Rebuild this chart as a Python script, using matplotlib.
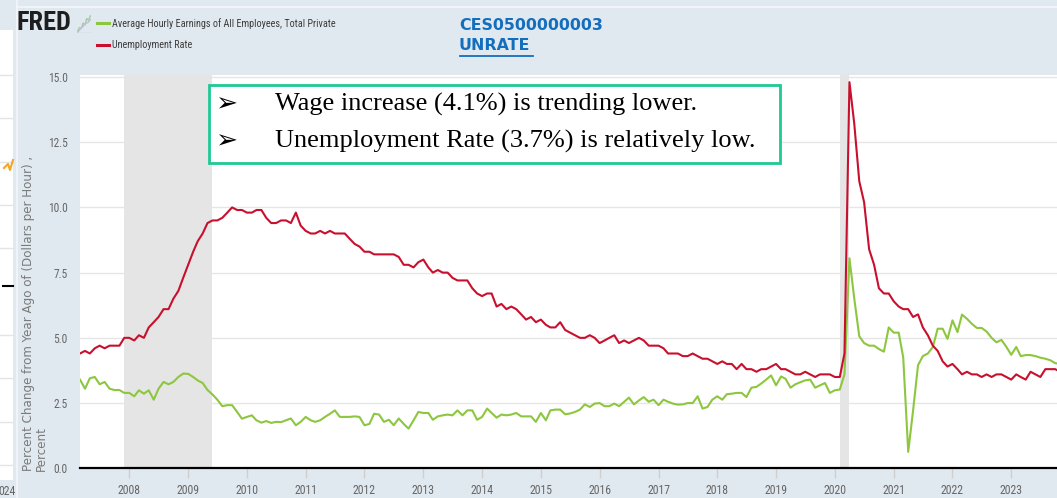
import matplotlib
matplotlib.use('Agg')
import matplotlib.pyplot as plt
from matplotlib.patches import Rectangle
from matplotlib.lines import Line2D
from matplotlib import font_manager as fm
import pandas as pd

# ---------------- data ----------------
start_month = '2007-03-01'
years = list(range(2008, 2024))
year_labels = [str(y) for y in years]
y_ticks = [0.0, 2.5, 5.0, 7.5, 10.0, 12.5, 15.0]
y_tick_labels = ['0.0', '2.5', '5.0', '7.5', '10.0', '12.5', '15.0']

# Average Hourly Earnings of All Employees, Total Private (% change from year ago), Mar 2007 - Dec 2023
wage_2007 = [3.40, 3.05, 3.45, 3.50, 3.22, 3.31, 3.05, 3.00, 3.00, 2.89]
wage_2008 = [2.89, 2.76, 2.99, 2.86, 2.99, 2.63, 3.05, 3.31, 3.22, 3.31, 3.50, 3.63]
wage_2009 = [3.62, 3.50, 3.37, 3.27, 3.00, 2.83, 2.63, 2.38, 2.42, 2.42, 2.16, 1.90]
wage_2010 = [1.97, 2.03, 1.84, 1.75, 1.81, 1.74, 1.78, 1.77, 1.84, 1.91, 1.65, 1.78]
wage_2011 = [1.97, 1.84, 1.78, 1.84, 1.97, 2.09, 2.22, 1.97, 1.97, 1.97, 1.99, 1.97]
wage_2012 = [1.65, 1.70, 2.09, 2.06, 1.78, 1.86, 1.65, 1.91, 1.70, 1.52, 1.84, 2.16]
wage_2013 = [2.12, 2.12, 1.86, 1.99, 2.03, 2.06, 2.03, 2.22, 2.03, 2.22, 2.22, 1.86]
wage_2014 = [1.97, 2.29, 2.12, 1.94, 2.06, 2.03, 2.06, 2.12, 1.99, 1.99, 1.99, 1.78]
wage_2015 = [2.12, 1.84, 2.22, 2.25, 2.25, 2.07, 2.10, 2.16, 2.25, 2.45, 2.35, 2.48]
wage_2016 = [2.50, 2.38, 2.38, 2.48, 2.38, 2.55, 2.71, 2.45, 2.60, 2.73, 2.55, 2.63]
wage_2017 = [2.42, 2.63, 2.55, 2.48, 2.44, 2.45, 2.50, 2.50, 2.76, 2.29, 2.35, 2.63]
wage_2018 = [2.76, 2.63, 2.84, 2.86, 2.89, 2.89, 2.73, 3.09, 3.12, 3.25, 3.40, 3.56]
wage_2019 = [3.18, 3.52, 3.43, 3.09, 3.22, 3.30, 3.37, 3.40, 3.09, 3.18, 3.27, 2.89]
wage_2020 = [2.99, 3.02, 3.60, 8.05, 6.50, 5.06, 4.80, 4.70, 4.70, 4.57, 4.47, 5.40]
wage_2021 = [5.20, 5.20, 4.25, 0.63, 2.20, 3.95, 4.30, 4.40, 4.65, 5.35, 5.35, 4.96]
wage_2022 = [5.67, 5.22, 5.89, 5.73, 5.54, 5.38, 5.38, 5.24, 5.00, 4.83, 4.92, 4.66]
wage_2023 = [4.35, 4.65, 4.30, 4.34, 4.34, 4.30, 4.24, 4.20, 4.14, 4.03, 4.00, 4.10]

# Unemployment Rate (%), Mar 2007 - Dec 2023
unrate_2007 = [4.4, 4.5, 4.4, 4.6, 4.7, 4.6, 4.7, 4.7, 4.7, 5.0]
unrate_2008 = [5.0, 4.9, 5.1, 5.0, 5.4, 5.6, 5.8, 6.1, 6.1, 6.5, 6.8, 7.3]
unrate_2009 = [7.8, 8.3, 8.7, 9.0, 9.4, 9.5, 9.5, 9.6, 9.8, 10.0, 9.9, 9.9]
unrate_2010 = [9.8, 9.8, 9.9, 9.9, 9.6, 9.4, 9.4, 9.5, 9.5, 9.4, 9.8, 9.3]
unrate_2011 = [9.1, 9.0, 9.0, 9.1, 9.0, 9.1, 9.0, 9.0, 9.0, 8.8, 8.6, 8.5]
unrate_2012 = [8.3, 8.3, 8.2, 8.2, 8.2, 8.2, 8.2, 8.1, 7.8, 7.8, 7.7, 7.9]
unrate_2013 = [8.0, 7.7, 7.5, 7.6, 7.5, 7.5, 7.3, 7.2, 7.2, 7.2, 6.9, 6.7]
unrate_2014 = [6.6, 6.7, 6.7, 6.2, 6.3, 6.1, 6.2, 6.1, 5.9, 5.7, 5.8, 5.6]
unrate_2015 = [5.7, 5.5, 5.4, 5.4, 5.6, 5.3, 5.2, 5.1, 5.0, 5.0, 5.1, 5.0]
unrate_2016 = [4.8, 4.9, 5.0, 5.1, 4.8, 4.9, 4.8, 4.9, 5.0, 4.9, 4.7, 4.7]
unrate_2017 = [4.7, 4.6, 4.4, 4.4, 4.4, 4.3, 4.3, 4.4, 4.3, 4.2, 4.2, 4.1]
unrate_2018 = [4.0, 4.1, 4.0, 4.0, 3.8, 4.0, 3.8, 3.8, 3.7, 3.8, 3.8, 3.9]
unrate_2019 = [4.0, 3.8, 3.8, 3.7, 3.6, 3.6, 3.7, 3.6, 3.5, 3.6, 3.6, 3.6]
unrate_2020 = [3.5, 3.5, 4.4, 14.8, 13.2, 11.0, 10.2, 8.4, 7.8, 6.9, 6.7, 6.7]
unrate_2021 = [6.4, 6.2, 6.1, 6.1, 5.8, 5.9, 5.4, 5.1, 4.7, 4.5, 4.1, 3.9]
unrate_2022 = [4.0, 3.8, 3.6, 3.7, 3.6, 3.6, 3.5, 3.6, 3.5, 3.6, 3.6, 3.5]
unrate_2023 = [3.4, 3.6, 3.5, 3.4, 3.7, 3.6, 3.5, 3.8, 3.8, 3.8, 3.7, 3.7]

recessions = [('2007-12-01', '2009-06-01'), ('2020-02-01', '2020-04-01')]

series1_name = 'Average Hourly Earnings of All Employees, Total Private'
series2_name = 'Unemployment Rate'
series1_id = 'CES0500000003'
series2_id = 'UNRATE'
y_label = 'Percent Change from Year Ago of (Dollars per Hour) ,\nPercent'
note_lines = ['Wage increase (4.1%) is trending lower.',
              'Unemployment Rate (3.7%) is relatively low.']

wage = (wage_2007 + wage_2008 + wage_2009 + wage_2010 + wage_2011 + wage_2012 +
        wage_2013 + wage_2014 + wage_2015 + wage_2016 + wage_2017 + wage_2018 +
        wage_2019 + wage_2020 + wage_2021 + wage_2022 + wage_2023)
unrate = (unrate_2007 + unrate_2008 + unrate_2009 + unrate_2010 + unrate_2011 +
          unrate_2012 + unrate_2013 + unrate_2014 + unrate_2015 + unrate_2016 +
          unrate_2017 + unrate_2018 + unrate_2019 + unrate_2020 + unrate_2021 +
          unrate_2022 + unrate_2023)
dates = pd.date_range(start_month, periods=len(wage), freq='MS')


# ---------------- fonts ----------------
def avail(name):
    try:
        fm.findfont(fm.FontProperties(family=name), fallback_to_default=False)
        return True
    except Exception:
        return False


NARROW = next((f for f in ['Liberation Sans Narrow', 'Roboto Condensed', 'Liberation Sans']
               if avail(f)), 'DejaVu Sans')
SERIF = 'Liberation Serif' if avail('Liberation Serif') else 'DejaVu Serif'

# ---------------- figure ----------------
W, H, DPI = 1057, 498, 100
BG = '#e1e9f0'
GREEN = '#8dc63f'
RED = '#c8102e'
BLUE = '#146ebe'

fig = plt.figure(figsize=(W / DPI, H / DPI), dpi=DPI, facecolor=BG)


def fx(x):
    return x / W


def fy(y):
    return 1 - y / H


# neighbouring chart fragment on the far left
fig.patches.append(Rectangle((0, fy(480)), fx(13), (480 - 30) / H, transform=fig.transFigure,
                             facecolor='white', edgecolor='none', zorder=0))
for gy in [75, 118, 162, 205, 248, 335, 378, 422, 465]:
    fig.lines.append(Line2D([0, fx(13)], [fy(gy), fy(gy)], transform=fig.transFigure,
                            color='#e4e4e4', lw=1))
fig.lines.append(Line2D([fx(3), fx(13)], [fy(286), fy(286)], transform=fig.transFigure,
                        color='black', lw=1.5))
fig.lines.append(Line2D([fx(4), fx(8), fx(10), fx(13)], [fy(168), fy(164), fy(170), fy(160)],
                        transform=fig.transFigure, color='#f5a623', lw=1.5))
fig.text(fx(-2), fy(491), '024', fontsize=8.5, color='#666666', family=NARROW, va='center')
fig.lines.append(Line2D([fx(16.5), fx(16.5)], [0, 1], transform=fig.transFigure,
                        color='#f4f7fa', lw=1.2))
fig.lines.append(Line2D([fx(17), 1], [fy(7), fy(7)], transform=fig.transFigure,
                        color='#f4f7fa', lw=1.2))

# main axes
ax_left, ax_right = 80, 1065
ax_top, ax_bottom = 75.5, 468.3
ax = fig.add_axes([fx(ax_left), fy(ax_bottom), (ax_right - ax_left) / W, (ax_bottom - ax_top) / H])
ax.set_facecolor('white')
ax.set_axisbelow(True)

for s, e in recessions:
    ax.axvspan(pd.Timestamp(s), pd.Timestamp(e), color='#e5e5e5', lw=0, zorder=1)

ax.plot(dates, wage, color=GREEN, lw=1.5, zorder=3, solid_joinstyle='round')
ax.plot(dates, unrate, color=RED, lw=1.5, zorder=4, solid_joinstyle='round')

ax.set_xlim(dates[0], dates[-1])
ax.set_ylim(0, (ax_bottom - ax_top) / 26.09)

ax.set_yticks(y_ticks)
ax.set_yticklabels(y_tick_labels)
ax.set_xticks([pd.Timestamp(f'{y}-01-01') for y in years])
ax.set_xticklabels(year_labels)
ax.yaxis.grid(True, color='#e6e6e6', lw=1)
ax.tick_params(axis='y', length=0, pad=9, labelsize=8.3, labelcolor='#666666')
ax.tick_params(axis='x', length=7, width=1, color='#cfcfcf', pad=4, labelsize=8.5,
               labelcolor='#666666')
for lab in ax.get_xticklabels() + ax.get_yticklabels():
    lab.set_family(NARROW)
for side in ['top', 'right', 'left']:
    ax.spines[side].set_visible(False)
ax.spines['bottom'].set_color('black')
ax.spines['bottom'].set_linewidth(1.6)
ax.spines['bottom'].set_zorder(5)

# y axis label
fig.text(fx(22), fy(471), y_label, rotation=90, rotation_mode='anchor', ha='left', va='top',
         multialignment='left', fontsize=8.6, color='#7a7a7a', family='DejaVu Sans',
         linespacing=0.98)

# header: FRED logo + legend + series ids
fig.text(fx(17), fy(23), 'FRED', fontsize=19, fontweight='bold', color='#1e1e1e',
         family=NARROW, va='center', ha='left')
icon_a = [0.1, 0.3, 0.25, 0.55, 0.45, 0.8, 0.7, 0.95]
icon_b = [0.05, 0.15, 0.3, 0.35, 0.5, 0.55, 0.6, 0.75]
iax = fig.add_axes([fx(77), fy(33), fx(14), 18 / H])
iax.set_axis_off()
iax.plot(icon_a, color='#a8c8a0', lw=1)
iax.plot(icon_b, color='#b9c6d6', lw=1)
iax.plot([0, 7], [0.02, 0.02], color='#c5c5c5', lw=1)
iax.set_ylim(0, 1)

fig.lines.append(Line2D([fx(97), fx(109)], [fy(23), fy(23)], transform=fig.transFigure,
                        color=GREEN, lw=2.2))
fig.lines.append(Line2D([fx(97), fx(109)], [fy(45), fy(45)], transform=fig.transFigure,
                        color=RED, lw=2.2))
fig.text(fx(112), fy(23.5), series1_name, fontsize=7.3, color='#3c3c3c', family=NARROW, va='center')
fig.text(fx(112), fy(45.5), series2_name, fontsize=7.3, color='#3c3c3c', family=NARROW, va='center')

fig.text(fx(459), fy(26), series1_id, fontsize=11.4, fontweight='bold', color=BLUE,
         family='DejaVu Sans', va='center')
fig.text(fx(459), fy(46), series2_id, fontsize=11.4, fontweight='bold', color=BLUE,
         family='DejaVu Sans', va='center')
fig.lines.append(Line2D([fx(460), fx(533)], [fy(55.5), fy(55.5)], transform=fig.transFigure,
                        color=BLUE, lw=1.3))

# annotation box
fig.patches.append(Rectangle((fx(209), fy(163)), (780 - 209) / W, (163 - 85) / H,
                             transform=fig.transFigure, facecolor='white',
                             edgecolor='#1fc994', lw=2, zorder=10))
for yy, line in zip([104, 141], note_lines):
    fig.text(fx(215), fy(yy), '\u27a2', fontsize=19, fontweight='bold', color='black',
             family='DejaVu Sans', va='center', ha='left', zorder=11)
    fig.text(fx(275), fy(yy), line, fontsize=19, color='black', family=SERIF,
             va='center', ha='left', zorder=11)

fig.savefig('out.png', dpi=DPI, facecolor=BG)
